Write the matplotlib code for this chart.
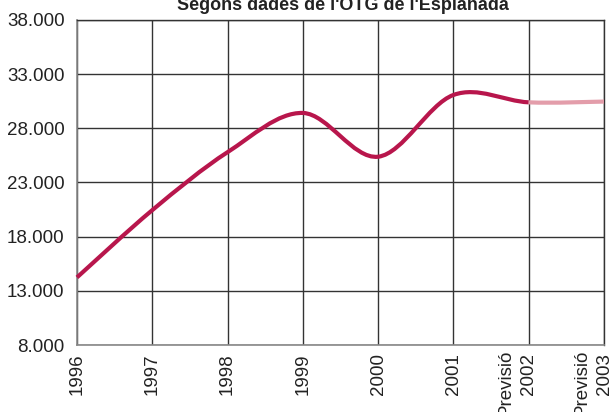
import matplotlib
matplotlib.use("Agg")
import matplotlib.pyplot as plt
import numpy as np
from matplotlib.path import Path
from matplotlib.patches import PathPatch

plt.rcParams['font.family'] = ['Liberation Sans', 'DejaVu Sans']

years = ["1996", "1997", "1998", "1999", "2000", "2001", "2002", "2003"]
forecast_prefix = ["", "", "", "", "", "", "Previsió", "Previsió"]
values = [14240, 20450, 25800, 29420, 25380, 31080, 30400, 30470]
yticks = [8000, 13000, 18000, 23000, 28000, 33000, 38000]
ytick_labels = ["8.000", "13.000", "18.000", "23.000", "28.000", "33.000", "38.000"]
title = "Segons dades de l'OTG de l'Esplanada"

main_color = "#B8164C"
forecast_color = "#E39DAA"

fig = plt.figure(figsize=(6.11, 4.12), dpi=100)
ax = fig.add_axes([77/611, 1 - 345/412, (604-77)/611, (345-20)/412])

x = np.arange(len(values), dtype=float)
y = np.array(values, dtype=float)

def catmull_segment(i):
    n = len(x)
    p0 = np.array([x[max(i-1, 0)], y[max(i-1, 0)]])
    p1 = np.array([x[i], y[i]])
    p2 = np.array([x[i+1], y[i+1]])
    p3 = np.array([x[min(i+2, n-1)], y[min(i+2, n-1)]])
    c1 = p1 + (p2 - p0) / 6.0
    c2 = p2 - (p3 - p1) / 6.0
    return [p1, c1, c2, p2]

def make_path(start, end):
    verts, codes = [], []
    for i in range(start, end):
        seg = catmull_segment(i)
        if not verts:
            verts.append(seg[0]); codes.append(Path.MOVETO)
        verts.extend(seg[1:]); codes.extend([Path.CURVE4]*3)
    return Path(verts, codes)

ax.add_patch(PathPatch(make_path(0, 6), facecolor='none', edgecolor=main_color,
                       lw=3.0, capstyle='butt', joinstyle='round', zorder=3, clip_on=False))
ax.add_patch(PathPatch(make_path(6, 7), facecolor='none', edgecolor=forecast_color,
                       lw=3.0, capstyle='butt', joinstyle='round', zorder=3, clip_on=False))

ax.set_xlim(0, 7)
ax.set_ylim(8000, 38000)
ax.set_yticks(yticks)
ax.set_yticklabels(ytick_labels, fontsize=13.5, color="#222222")
ax.set_xticks(x)
ax.set_xticklabels(years, rotation=90, fontsize=13.5, color="#222222", va='top', ha='center')
ax.tick_params(axis='both', length=0)
ax.tick_params(axis='y', pad=9)
ax.tick_params(axis='x', pad=6)

for xi, pre in zip(x, forecast_prefix):
    if pre:
        ax.annotate(pre, xy=(xi, 0), xycoords=('data', 'axes fraction'),
                    xytext=(-16, -3), textcoords='offset points',
                    rotation=90, ha='center', va='top', fontsize=13.5, color="#222222",
                    annotation_clip=False)

ax.grid(True, color="#333333", lw=1.0)
ax.set_axisbelow(True)
for s in ['left', 'bottom']:
    ax.spines[s].set_color("#888888")
    ax.spines[s].set_linewidth(1.2)
for s in ['top', 'right']:
    ax.spines[s].set_color("#333333")
    ax.spines[s].set_linewidth(1.0)

fig.text(343/611, 1 - 10/412, title, ha='center', va='baseline', fontsize=13,
         fontweight='bold', color="#222222")

fig.savefig("out.png", dpi=100)
